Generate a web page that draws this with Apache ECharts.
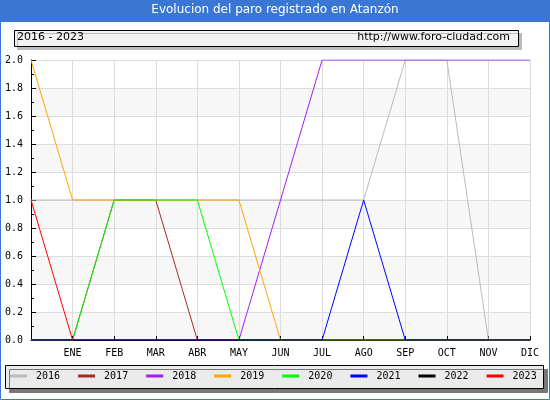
<!DOCTYPE html>
<html>
<head>
<meta charset="utf-8">
<script src="https://cdn.jsdelivr.net/npm/echarts@6/dist/echarts.min.js"></script>
<style>
  html, body { margin: 0; padding: 0; background: #fff; }
  #chart { width: 550px; height: 400px; }
</style>
</head>
<body>
<div id="chart"></div>
<script>
// meses (el primer punto es diciembre del año anterior, sin etiqueta)
var months = ['', 'ENE', 'FEB', 'MAR', 'ABR', 'MAY', 'JUN', 'JUL', 'AGO', 'SEP', 'OCT', 'NOV', 'DIC'];
var years = ['2016', '2017', '2018', '2019', '2020', '2021', '2022', '2023'];
var colors = ['#bbbbbb', '#a52a2a', '#a020f0', '#ffa500', '#00ff00', '#0000ff', '#000000', '#ff0000'];

var paro2016 = [1, 1, 1, 1, 1, 1, 1, 1, 1, 2, 2, 0, 0];
var paro2017 = [0, 0, 1, 1, 0, 0, 0, 0, 0, 0, 0, 0, 0];
var paro2018 = [0, 0, 0, 0, 0, 0, 1, 2, 2, 2, 2, 2, 2];
var paro2019 = [2, 1, 1, 1, 1, 1, 0, 0, 0, 0, 0, 0, 0];
var paro2020 = [0, 0, 1, 1, 1, 0, 0, 0, 0, 0, 0, 0, 0];
var paro2021 = [0, 0, 0, 0, 0, 0, 0, 0, 1, 0, 0, 0, 0];
var paro2022 = [0, 0, 0, 0, 0, 0, 0, 0, 0, 0, 0, 0, 0];
var paro2023 = [1, 0];
var allData = [paro2016, paro2017, paro2018, paro2019, paro2020, paro2021, paro2022, paro2023];

var yTicks = [0, 0.2, 0.4, 0.6, 0.8, 1.0, 1.2, 1.4, 1.6, 1.8, 2.0];

var mono = 'DejaVu Sans Mono';

var series = years.map(function (y, i) {
    return {
        name: y,
        type: 'line',
        data: allData[i],
        symbol: 'none',
        color: colors[i],
        lineStyle: { width: 1, color: colors[i] },
        z: 3 + i
    };
});

var chart = echarts.init(document.getElementById('chart'));
chart.setOption({
    animation: false,
    grid: { left: 31, right: 20, top: 60, bottom: 60 },
    graphic: [
        { type: 'rect', z: 0, shape: { x: 0, y: 0, width: 550, height: 22 }, style: { fill: '#3a77d5' } },
        { type: 'rect', z: 0, shape: { x: 0.5, y: 0.5, width: 549, height: 399 }, style: { fill: 'none', stroke: '#3a77d5', lineWidth: 1 } },
        { type: 'text', z: 1, left: 'center', top: 4, style: { text: 'Evolucion del paro registrado en Atanzón', fill: '#fff', font: '12px "DejaVu Sans"' } },
        { type: 'rect', z: 0, shape: { x: 14.5, y: 30.5, width: 504, height: 16 }, style: { fill: '#f2f2f2', stroke: '#000', lineWidth: 1, shadowColor: '#bbb', shadowOffsetX: 3, shadowOffsetY: 3 } },
        { type: 'text', z: 1, left: 17, top: 32, style: { text: '2016 - 2023', fill: '#000', font: '11px "DejaVu Sans"' } },
        { type: 'text', z: 1, right: 40, top: 32, style: { text: 'http://www.foro-ciudad.com', fill: '#000', font: '11px "DejaVu Sans"' } },
        { type: 'rect', z: 0, shape: { x: 5.5, y: 365.5, width: 538, height: 23 }, style: { fill: '#ebebeb', stroke: '#000', lineWidth: 1, shadowColor: '#777', shadowOffsetX: 4, shadowOffsetY: 4 } }
    ],
    legend: {
        data: years,
        left: 10,
        top: 371,
        width: 540,
        padding: 0,
        icon: 'rect',
        itemWidth: 17,
        itemHeight: 3,
        itemGap: 18,
        textStyle: { fontFamily: mono, fontSize: 10, color: '#000', padding: [0, 0, 0, 4] }
    },
    xAxis: {
        type: 'category',
        boundaryGap: false,
        data: months,
        axisLine: { lineStyle: { color: '#000', width: 1 } },
        axisTick: { show: true, inside: true, length: 4, lineStyle: { color: '#000' } },
        axisLabel: { fontFamily: mono, fontSize: 10, color: '#000', margin: 8, interval: 0 },
        splitLine: { show: true, lineStyle: { color: '#dddddd' } }
    },
    yAxis: {
        type: 'value',
        min: 0,
        max: 2,
        interval: 0.2,
        axisLine: { show: true, lineStyle: { color: '#000', width: 1 } },
        axisTick: { show: true, inside: true, length: 5, lineStyle: { color: '#000' } },
        minorTick: { show: true, splitNumber: 2, length: 3, lineStyle: { color: '#000' } },
        axisLabel: {
            fontFamily: mono, fontSize: 10, color: '#000', margin: 8,
            formatter: function (v) { return yTicks.indexOf(+v.toFixed(1)) >= 0 ? v.toFixed(1) : ''; }
        },
        splitLine: { show: true, lineStyle: { color: '#dddddd' } },
        splitArea: { show: true, areaStyle: { color: ['#f7f7f7', '#ffffff'] } }
    },
    series: series
});
</script>
</body>
</html>
